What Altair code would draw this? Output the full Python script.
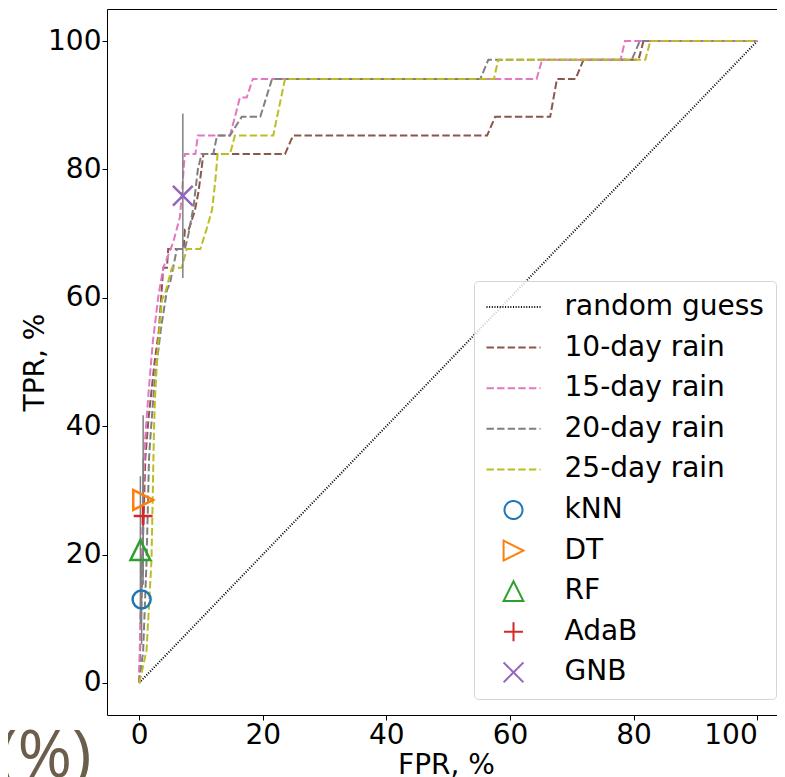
import altair as alt
import pandas as pd

# ---------------- data ----------------
curve_names = ["random guess", "10-day rain", "15-day rain", "20-day rain", "25-day rain"]
method_names = ["kNN", "DT", "RF", "AdaB", "GNB"]

guess_fpr = [0, 100]
guess_tpr = [0, 100]

rain10_fpr = [0, 0.3, 0.7, 1.0, 1.5, 2.5, 3.2, 3.9, 4.5, 4.7, 7.2, 7.4, 8.0, 9.0, 9.6, 10.0, 10.4,
              23.6, 24.9, 56.3, 57.6, 66.5, 67.6, 70.6, 71.9, 80.8, 81.6, 100]
rain10_tpr = [0, 10, 25, 35, 41, 50, 55, 64.7, 64.7, 67.6, 67.6, 70.6, 70.6, 73.5, 76.5, 79.4, 82.4,
              82.4, 85.3, 85.3, 88.2, 88.2, 94.1, 94.1, 97.1, 97.1, 100, 100]

rain15_fpr = [0, 0.1, 0.4, 0.65, 0.97, 1.5, 2.2, 3.1, 3.9, 5.5, 6.6, 6.9, 7.2, 7.4, 9.1, 9.5, 14.7,
              15.5, 16.3, 17.4, 18.4, 64.3, 65.2, 77.9, 78.6, 100]
rain15_tpr = [0, 5, 19, 30, 38, 45, 53, 60.2, 64.7, 68.6, 72.6, 76.0, 80.0, 82.4, 82.4, 85.3, 85.3,
              88.2, 91.2, 91.2, 94.1, 94.1, 97.1, 97.1, 100, 100]

rain20_fpr = [0, 0.65, 1.2, 1.6, 1.8, 2.5, 3.5, 4.5, 5.0, 6.1, 7.4, 8.0, 8.8, 9.5, 10.1, 12.0, 12.6,
              14.7, 16.6, 19.6, 21.5, 55.2, 56.5, 79.7, 81.0, 100]
rain20_tpr = [0, 5, 19, 35, 38, 47, 55, 61.2, 62.3, 67.6, 67.6, 70.0, 74.2, 80.0, 82.4, 82.4, 85.3,
              85.3, 88.2, 88.2, 94.1, 94.1, 97.1, 97.1, 100, 100]

rain25_fpr = [0, 0.5, 1.2, 2.0, 2.4, 2.6, 3.0, 3.7, 4.2, 5.3, 6.9, 7.7, 9.9, 11.0, 11.8, 12.3, 12.7,
              14.7, 15.5, 21.7, 23.6, 57.4, 58.1, 81.9, 82.7, 100]
rain25_tpr = [0, 2, 5.1, 19.2, 39.4, 45, 52, 59.7, 60.7, 64.7, 64.7, 67.6, 67.6, 71.0, 73.7, 78.0, 82.4,
              82.4, 85.3, 85.3, 94.1, 94.1, 97.1, 97.1, 100, 100]

method_fpr = [0.4, 0.65, 0.2, 0.65, 7.07]
method_tpr = [13.0, 28.5, 20.7, 26.0, 75.9]
method_err = [7.0, 13.2, 11.5, 9.0, 12.8]

annotation_text = ["(%)"]

x_ticks = [0, 20, 40, 60, 80, 100]
y_ticks = [0, 20, 40, 60, 80, 100]

# ---------------- styles ----------------
all_names = curve_names + method_names
colors = ["#000000", "#8c564b", "#e377c2", "#7f7f7f", "#bcbd22",
          "#1f77b4", "#ff7f0e", "#2ca02c", "#d62728", "#9467bd"]
line_path = "M-3,0L3,0"
shapes = [line_path] * 5 + [
    "circle",
    "M1.1,0L-1.1,-1.1L-1.1,1.1Z",
    "M0,-1.1L1.1,1.1L-1.1,1.1Z",
    "M-1.05,0L1.05,0M0,-1.05L0,1.05",
    "M-1.1,-1.1L1.1,1.1M-1.1,1.1L1.1,-1.1",
]
dashes = [[1, 1.65], [7.4, 3.2], [7.4, 3.2], [7.4, 3.2], [7.4, 3.2]] + [[1, 0]] * 5

FONT = "DejaVu Sans"

# ---------------- tables ----------------
curves = [
    ("random guess", guess_fpr, guess_tpr),
    ("10-day rain", rain10_fpr, rain10_tpr),
    ("15-day rain", rain15_fpr, rain15_tpr),
    ("20-day rain", rain20_fpr, rain20_tpr),
    ("25-day rain", rain25_fpr, rain25_tpr),
]
rows = []
for name, xs, ys in curves:
    for i, (fx, ty) in enumerate(zip(xs, ys)):
        rows.append({"name": name, "fpr": fx, "tpr": ty, "i": i})
lines_df = pd.DataFrame(rows)

pts_df = pd.DataFrame({
    "name": method_names,
    "fpr": method_fpr,
    "tpr": method_tpr,
    "lo": [t - e for t, e in zip(method_tpr, method_err)],
    "hi": [t + e for t, e in zip(method_tpr, method_err)],
})

ann_df = pd.DataFrame({"t": annotation_text})

legend = alt.Legend(
    title=None, orient="none", legendX=367, legendY=272,
    padding=12, symbolSize=324, symbolOffset=13.5, labelOffset=37,
    labelFont=FONT, labelFontSize=28, labelColor="#000000",
    rowPadding=12.6, strokeColor="#d5d5d5", fillColor="rgba(255,255,255,0.8)",
    cornerRadius=4, symbolStrokeWidth=2, symbolFillColor="transparent",
    labelLimit=400,
)

xscale = alt.Scale(domain=[-5.2, 103.2], nice=False, zero=False)
yscale = alt.Scale(domain=[-5, 105], nice=False, zero=False)

color_enc = alt.Color("name:N", scale=alt.Scale(domain=all_names, range=colors), legend=legend)

x_axis = alt.Axis(orient="bottom", values=x_ticks, grid=False, title="FPR, %", titleX=339, titleY=50,
                  titleBaseline="middle", titleAlign="center", labelFlush=25)
y_axis = alt.Axis(orient="left", values=y_ticks, grid=False, title="TPR, %", titleX=-72, titleY=353,
                  titleAngle=270, titleBaseline="middle", titleAlign="center")
top_axis = alt.Axis(orient="top", labels=False, ticks=False, title=None, grid=False, domain=True)
hidden_top_axis = alt.Axis(orient="top", labels=False, ticks=False, title=None, grid=False, domain=False)

lines = alt.Chart(lines_df).mark_line(strokeWidth=2).encode(
    x=alt.X("fpr:Q", scale=xscale, axis=x_axis),
    y=alt.Y("tpr:Q", scale=yscale, axis=y_axis),
    color=color_enc,
    strokeDash=alt.StrokeDash("name:N", scale=alt.Scale(domain=all_names, range=dashes), legend=legend),
    order="i:Q",
)

errbars = alt.Chart(pts_df).mark_rule(color="#808080", strokeWidth=1.5).encode(
    x=alt.X("fpr:Q", scale=xscale, axis=top_axis),
    y=alt.Y("lo:Q", scale=yscale),
    y2="hi:Q",
)

points = alt.Chart(pts_df).mark_point(filled=False, strokeWidth=2.5, size=324, opacity=1).encode(
    x=alt.X("fpr:Q", scale=xscale, axis=hidden_top_axis),
    y=alt.Y("tpr:Q", scale=yscale),
    color=color_enc,
    shape=alt.Shape("name:N", scale=alt.Scale(domain=all_names, range=shapes), legend=legend),
)

ann = alt.Chart(ann_df).mark_text(
    align="left", baseline="alphabetic", fontSize=66, font="Open Sans", color="#6b5e4b"
).encode(text="t:N", x=alt.value(-109), y=alt.value(768))

chart = alt.layer(lines, errbars, points, ann).properties(
    width=670, height=706,
    autosize=alt.AutoSizeParams(type="none"),
    padding={"left": 99, "top": 1, "right": 0, "bottom": 62},
).configure_view(stroke=None).configure_axis(
    labelFont=FONT, labelFontSize=28, labelColor="#000000",
    titleFont=FONT, titleFontSize=28, titleColor="#000000", titleFontWeight="normal",
    domainColor="#000000", domainWidth=1, tickColor="#000000", tickWidth=1, tickSize=5,
).configure_axisX(labelPadding=1).configure_axisY(labelPadding=1)

chart.save("out.html", embed_options={"renderer": "svg", "actions": False})
